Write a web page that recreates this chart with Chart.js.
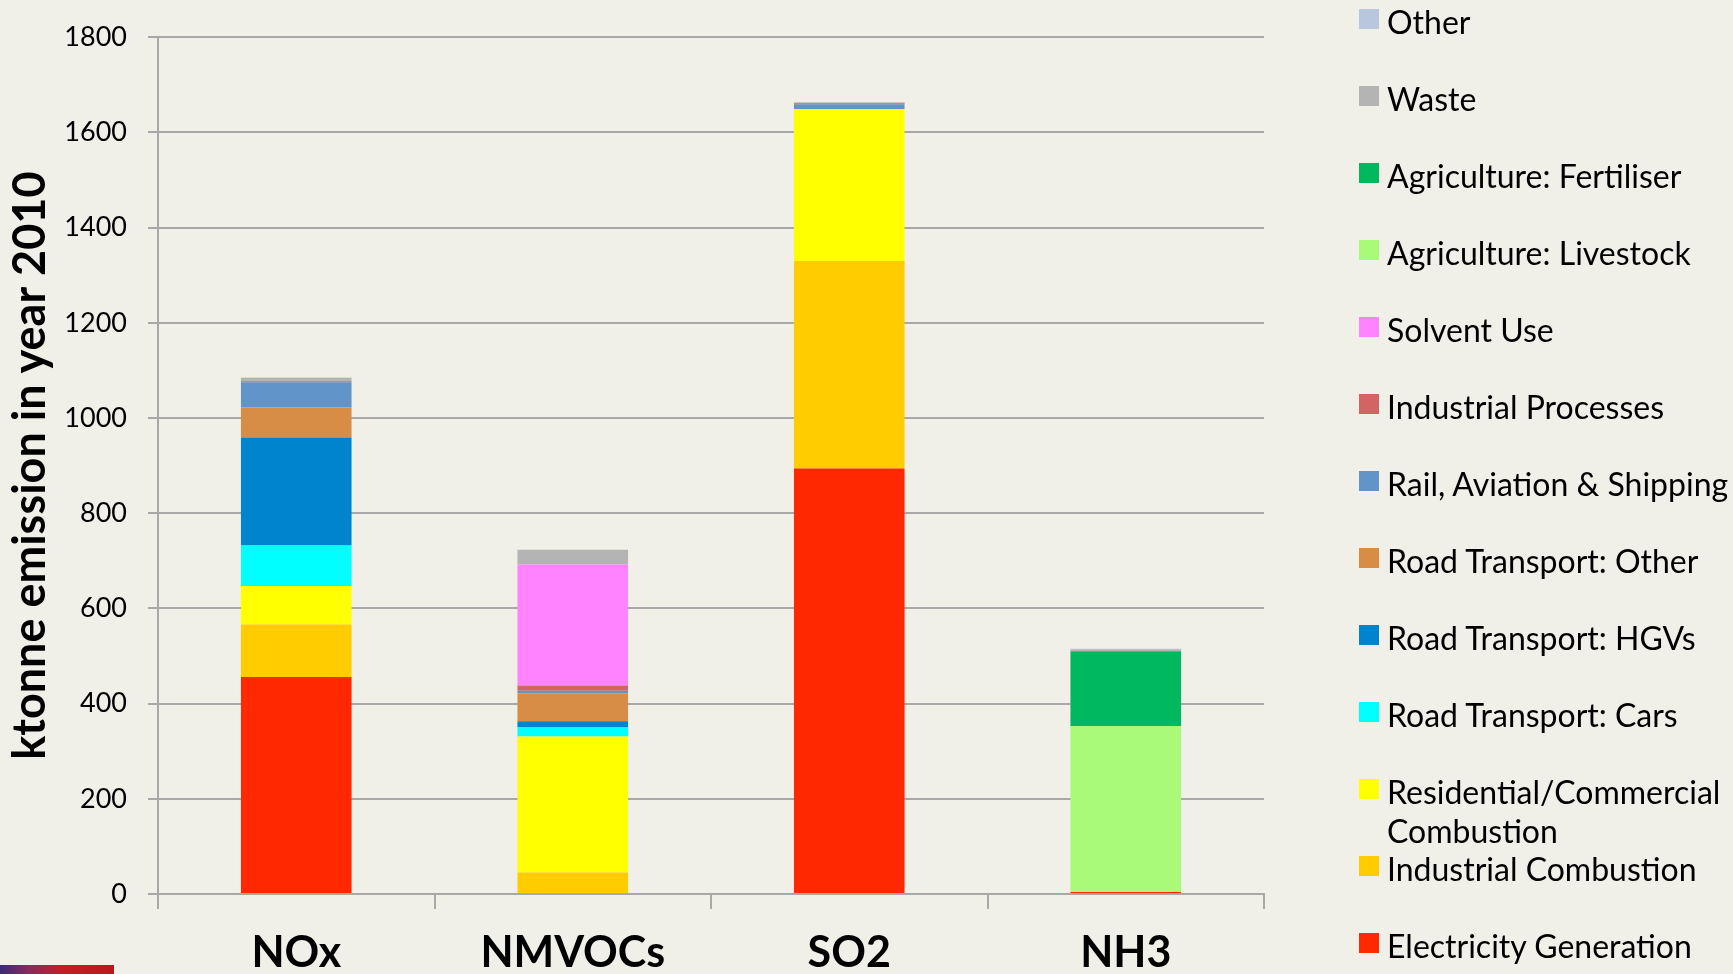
<!DOCTYPE html>
<html>
<head>
<meta charset="utf-8">
<script src="https://cdn.jsdelivr.net/npm/chart.js@4/dist/chart.umd.min.js"></script>
<style>
  html, body { margin: 0; padding: 0; background: #F0EFE8; overflow: hidden; }
  #wrap { position: relative; width: 1733px; height: 974px; }
  #legend { position: absolute; left: 1359px; top: 0; font-family: 'Lato'; font-size: 32px; color: #000; }
  .item { position: absolute; left: 0; width: 374px; line-height: 39px; }
  .box { position: absolute; left: 0; top: 7px; width: 20px; height: 20px; }
  .txt { position: absolute; left: 28px; top: 0; width: 346px; }
  #logo { position: absolute; left: 0; top: 965px; width: 114px; height: 9px;
          background: linear-gradient(90deg, #3b2a78 0%, #8a2a5a 25%, #c41e24 55%, #b8181c 100%); }
</style>
</head>
<body>
<div id="wrap">
  <canvas id="c" width="1733" height="974"></canvas>
  <div id="legend"></div>
  <div id="logo"></div>
</div>
<script>
// カテゴリと値（ktonne, 2010年）
const categories = ['NOx', 'NMVOCs', 'SO2', 'NH3'];

const electricity = [456, 0, 894, 4];
const industrialCombustion = [110, 45, 436, 0];
const residential = [81, 286, 319, 0];
const cars = [85, 20, 0, 0];
const hgvs = [227, 12, 0, 0];
const roadOther = [63, 59, 0, 0];
const railAviation = [53, 5, 10, 0];
const industrialProcesses = [2, 11, 2, 0];
const solventUse = [0, 254, 0, 0];
const livestock = [0, 0, 0, 349];
const fertiliser = [0, 0, 0, 157];
const waste = [7, 31, 2, 4];
const other = [1, 0, 1, 1];

const yTicks = [0, 200, 400, 600, 800, 1000, 1200, 1400, 1600, 1800];

// 積み上げ順（下から）
const seriesNames = [
    'Electricity Generation', 'Industrial Combustion', 'Residential/Commercial Combustion',
    'Road Transport: Cars', 'Road Transport: HGVs', 'Road Transport: Other',
    'Rail, Aviation & Shipping', 'Industrial Processes', 'Solvent Use',
    'Agriculture: Livestock', 'Agriculture: Fertiliser', 'Waste', 'Other'
];
const seriesValues = [
    electricity, industrialCombustion, residential, cars, hgvs, roadOther,
    railAviation, industrialProcesses, solventUse, livestock, fertiliser, waste, other
];
const seriesColors = [
    '#FF2800', '#FFCC00', '#FFFF00', '#00FFFF', '#0084CD', '#D88D47',
    '#6195C9', '#D26464', '#FF82FF', '#A8FA78', '#00B85E', '#B4B4B4', '#B8C6DE'
];

const ctx = document.getElementById('c').getContext('2d');
const gridColor = '#A8A8A8';

const chart = new Chart(ctx, {
    type: 'bar',
    data: {
        labels: categories,
        datasets: seriesNames.map((name, i) => ({
            label: name,
            data: seriesValues[i],
            backgroundColor: seriesColors[i],
            borderWidth: 0,
            categoryPercentage: 1,
            barPercentage: 0.4,
        })),
    },
    options: {
        responsive: false,
        animation: false,
        layout: { padding: { left: 0, right: 469, top: 36, bottom: 0 } },
        plugins: {
            legend: { display: false },
            tooltip: { enabled: false },
        },
        scales: {
            x: {
                stacked: true,
                offset: true,
                grid: {
                    offset: true,
                    drawOnChartArea: false,
                    drawTicks: true,
                    tickLength: 15,
                    color: gridColor,
                    lineWidth: 2,
                },
                border: { color: gridColor, width: 2 },
                ticks: {
                    color: '#000',
                    padding: 18,
                    font: { family: 'Lato', size: 43, weight: 'bold' },
                },
                afterFit: (s) => { s.height = 80; },
            },
            y: {
                stacked: true,
                min: 0,
                max: 1800,
                afterBuildTicks: (s) => { s.ticks = yTicks.map((v) => ({ value: v })); },
                grid: {
                    color: gridColor,
                    lineWidth: 2,
                    tickLength: 10,
                },
                border: { color: gridColor, width: 2 },
                ticks: {
                    color: '#000',
                    padding: 21,
                    font: { family: 'Lato', size: 27 },
                    callback: (v) => String(v),
                },
                title: {
                    display: true,
                    text: 'ktonne emission in year 2010',
                    color: '#000',
                    padding: { top: 3, bottom: 0 },
                    font: { family: 'Lato', size: 45, weight: 'bold' },
                },
                afterFit: (s) => { s.width = 158; },
            },
        },
    },
});

// 凡例（Excel風に逆順で表示）
const legendEl = document.getElementById('legend');
for (let k = 0; k < seriesNames.length; k++) {
    const i = seriesNames.length - 1 - k;
    const item = document.createElement('div');
    item.className = 'item';
    item.style.top = (2 + 77 * k) + 'px';
    item.innerHTML = `<span class="box" style="background:${seriesColors[i]}"></span><span class="txt"></span>`;
    item.querySelector('.txt').textContent = seriesNames[i];
    legendEl.appendChild(item);
}
</script>
</body>
</html>
